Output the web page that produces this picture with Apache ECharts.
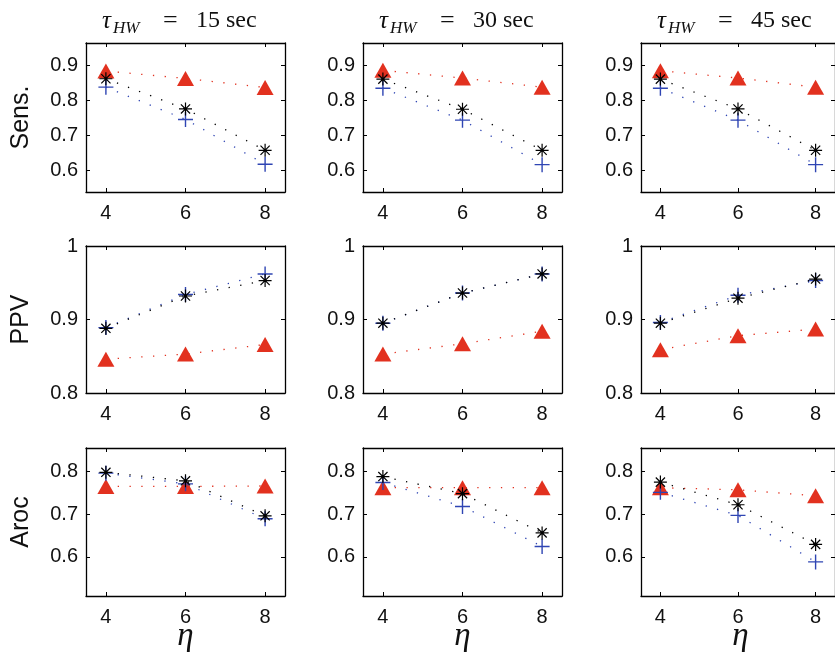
<!DOCTYPE html>
<html>
<head>
<meta charset="utf-8">
<script src="https://cdn.jsdelivr.net/npm/echarts@6/dist/echarts.min.js"></script>
<style>
  html, body { margin: 0; padding: 0; background: #fff; }
  #chart { width: 835px; height: 660px; }
</style>
</head>
<body>
<div id="chart"></div>
<script>
// Window lengths (columns) and detection threshold eta (x axis)
const windowSeconds = ['15', '30', '45'];
const etaValues = [4, 6, 8];
const etaTicks = [4, 6, 8];
const metricNames = ['Sens.', 'PPV', 'Aroc'];

// Y tick values per metric row
const sensTicks = [0.6, 0.7, 0.8, 0.9];
const ppvTicks = [0.8, 0.9, 1.0];
const arocTicks = [0.6, 0.7, 0.8];

// Sensitivity, one inner array per window (eta = 4, 6, 8)
const sensTriangle = [[0.884, 0.863, 0.837], [0.886, 0.864, 0.838], [0.885, 0.864, 0.838]];
const sensStar     = [[0.862, 0.776, 0.658], [0.861, 0.775, 0.658], [0.861, 0.776, 0.658]];
const sensPlus     = [[0.838, 0.746, 0.618], [0.835, 0.744, 0.617], [0.835, 0.744, 0.617]];

// Positive predictive value
const ppvTriangle = [[0.846, 0.853, 0.866], [0.853, 0.867, 0.884], [0.859, 0.878, 0.887]];
const ppvStar     = [[0.888, 0.932, 0.953], [0.895, 0.936, 0.962], [0.895, 0.929, 0.955]];
const ppvPlus     = [[0.889, 0.934, 0.962], [0.895, 0.936, 0.962], [0.896, 0.933, 0.953]];

// Area under ROC
const arocTriangle = [[0.765, 0.765, 0.766], [0.762, 0.762, 0.762], [0.762, 0.757, 0.743]];
const arocStar     = [[0.798, 0.778, 0.696], [0.788, 0.748, 0.656], [0.775, 0.722, 0.629]];
const arocPlus     = [[0.796, 0.771, 0.689], [0.774, 0.718, 0.624], [0.751, 0.697, 0.588]];

// Panel geometry
const colLeft = [86, 363, 641];
const panelWidth = 199;
const rowTop = [43, 246, 448];
const rowHeight = [149, 147, 148];
const yRanges = [[0.539, 0.964], [0.8, 1.0], [0.508, 0.855]];

const rows = [
  { ticks: sensTicks, tri: sensTriangle, star: sensStar, plus: sensPlus },
  { ticks: ppvTicks, tri: ppvTriangle, star: ppvStar, plus: ppvPlus },
  { ticks: arocTicks, tri: arocTriangle, star: arocStar, plus: arocPlus }
];

const RED = '#e2311f';
const BLUE = '#2f45b3';
const BLACK = '#000000';
const sansFont = '"Liberation Sans", Arial, Helvetica, sans-serif';
const serifFont = '"Liberation Serif", "Times New Roman", serif';

const starPath = 'path://M0,5L10,5M5,0L5,10M1.46,1.46L8.54,8.54M1.46,8.54L8.54,1.46';
const plusPath = 'path://M0,5L10,5M5,0L5,10';

const grids = [], xAxes = [], yAxes = [], series = [], graphics = [];

function pts(vals) { return etaValues.map((x, i) => [x, vals[i]]); }

const frameLine = { show: true, lineStyle: { color: '#000', width: 1.3 } };
const inTick = (vals) => ({ show: true, inside: true, length: 4, customValues: vals, lineStyle: { color: '#000', width: 1 } });

rows.forEach((row, r) => {
  for (let c = 0; c < 3; c++) {
    const g = r * 3 + c;
    grids.push({ left: colLeft[c], top: rowTop[r], width: panelWidth, height: rowHeight[r] });
    // bottom + mirrored top x axis
    xAxes.push({
      type: 'value', gridIndex: g, position: 'bottom', min: 3.5, max: 8.5,
      axisLine: frameLine, axisTick: inTick(etaTicks), splitLine: { show: false },
      axisLabel: { customValues: etaTicks, margin: 11, fontFamily: sansFont, fontSize: 20, color: '#111' }
    });
    xAxes.push({
      type: 'value', gridIndex: g, position: 'top', min: 3.5, max: 8.5,
      axisLine: frameLine, axisTick: inTick(etaTicks), splitLine: { show: false },
      axisLabel: { show: false }
    });
    yAxes.push({
      type: 'value', gridIndex: g, position: 'left', min: yRanges[r][0], max: yRanges[r][1],
      axisLine: frameLine, axisTick: inTick(row.ticks), splitLine: { show: false },
      axisLabel: {
        customValues: row.ticks, margin: 8, fontFamily: sansFont, fontSize: 20, color: '#111',
        formatter: (v) => (Math.abs(v - 1) < 1e-9 ? '1' : v.toFixed(1))
      }
    });
    yAxes.push({
      type: 'value', gridIndex: g, position: 'right', min: yRanges[r][0], max: yRanges[r][1],
      axisLine: frameLine, axisTick: inTick(row.ticks), splitLine: { show: false },
      axisLabel: { show: false }
    });

    const base = { xAxisIndex: 2 * g, yAxisIndex: 2 * g, type: 'line', silent: true, animation: false };
    series.push(Object.assign({}, base, {
      name: 'triangle', data: pts(row.tri[c]), z: 2,
      symbol: 'triangle', symbolSize: [17, 15],
      itemStyle: { color: RED, borderWidth: 0 },
      lineStyle: { color: RED, width: 1.3, type: [1.3, 10.5] }
    }));
    series.push(Object.assign({}, base, {
      name: 'plus', data: pts(row.plus[c]), z: 3,
      symbol: plusPath, symbolSize: 15,
      itemStyle: { color: 'none', borderColor: BLUE, borderWidth: 1.4 },
      lineStyle: { color: BLUE, width: 1.3, type: [1.3, 10.5] }
    }));
    series.push(Object.assign({}, base, {
      name: 'star', data: pts(row.star[c]), z: 4,
      symbol: starPath, symbolSize: 13,
      itemStyle: { color: 'none', borderColor: BLACK, borderWidth: 1.2 },
      lineStyle: { color: BLACK, width: 1.3, type: [1.3, 10.5] }
    }));
  }
  // row label
  graphics.push({
    type: 'text', x: 21, y: rowTop[r] + rowHeight[r] / 2, rotation: Math.PI / 2,
    style: { text: metricNames[r], fontFamily: sansFont, fontSize: 25, fill: '#111', align: 'center', verticalAlign: 'middle' }
  });
});

// column titles and eta labels
windowSeconds.forEach((s, c) => {
  const x0 = colLeft[c];
  graphics.push({ type: 'text', x: x0 + 16, y: 21, style: { text: 'τ', fontFamily: serifFont, fontStyle: 'italic', fontSize: 25, fill: '#111', align: 'left', verticalAlign: 'middle' } });
  graphics.push({ type: 'text', x: x0 + 27, y: 29, style: { text: 'HW', fontFamily: serifFont, fontStyle: 'italic', fontSize: 17, fill: '#111', align: 'left', verticalAlign: 'middle' } });
  graphics.push({ type: 'text', x: x0 + 77, y: 21, style: { text: '=', fontFamily: serifFont, fontSize: 26, fill: '#111', align: 'left', verticalAlign: 'middle' } });
  graphics.push({ type: 'text', x: x0 + 110, y: 21, style: { text: s + ' sec', fontFamily: serifFont, fontSize: 24, fill: '#111', align: 'left', verticalAlign: 'middle' } });
  graphics.push({ type: 'text', x: x0 + panelWidth / 2, y: 636, style: { text: 'η', fontFamily: serifFont, fontStyle: 'italic', fontSize: 33, fill: '#111', align: 'center', verticalAlign: 'middle' } });
});

const chart = echarts.init(document.getElementById('chart'), null, { renderer: 'canvas' });
chart.setOption({
  animation: false,
  backgroundColor: '#fff',
  grid: grids,
  xAxis: xAxes,
  yAxis: yAxes,
  series: series,
  graphic: graphics
});
</script>
</body>
</html>
